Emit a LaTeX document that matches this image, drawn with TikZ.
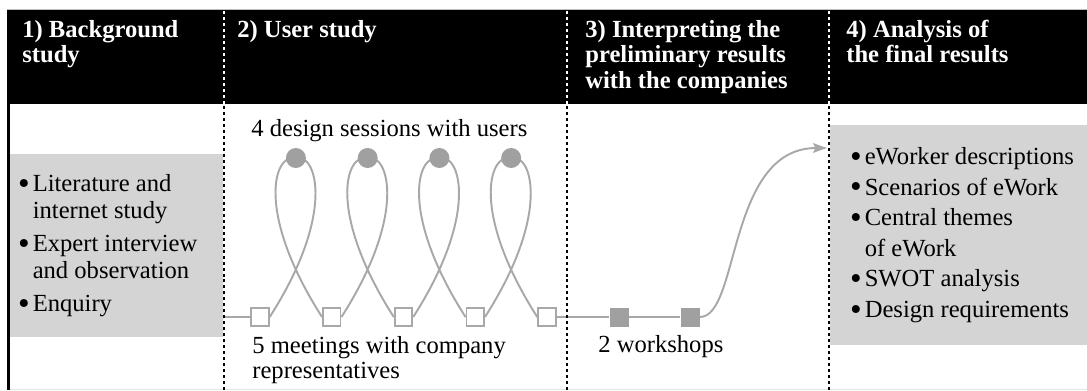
\documentclass[tikz,border=0pt]{standalone}
\usepackage{fontspec}
\setmainfont{Liberation Serif}
\usetikzlibrary{arrows.meta,backgrounds,calc}

\definecolor{linegrey}{RGB}{168,168,168}
\definecolor{dotgrey}{RGB}{160,160,160}
\definecolor{boxgrey}{RGB}{212,212,212}

\tikzset{
  hdr/.style={text=white, font=\fontsize{14pt}{14.5pt}\selectfont\bfseries,
    align=left, anchor=base west, inner sep=0pt},
  lbl/.style={font=\fontsize{14pt}{15.4pt}\selectfont, align=left,
    anchor=base west, inner sep=0pt},
  greybox/.style={fill=boxgrey, inner sep=0pt},
  meet/.style={rectangle, draw=linegrey, fill=white, line width=1.1pt,
    minimum size=0.35cm, inner sep=0pt},
  shop/.style={rectangle, fill=dotgrey, minimum size=0.38cm, inner sep=0pt},
  sess/.style={circle, fill=dotgrey, minimum size=0.4cm, inner sep=0pt},
  flow/.style={draw=linegrey, line width=1.1pt},
  divider/.style={line width=1.1pt, dash pattern=on 1.7pt off 1.7pt}
}
\newcommand{\blt}{\makebox[0.6em][l]{\raisebox{-0.11em}{\scalebox{1.35}{\textbullet}}}}
\newcommand{\ind}{\hspace*{0.6em}}

\begin{document}
\begin{tikzpicture}[x=0.02cm, y=0.02cm]
  \useasboundingbox (0,0) rectangle (1087,390);

  % header band and frame
  \fill (7,286) rectangle (1087,380);
  \draw[gray!50, line width=0.4pt] (7,380.5) -- (1087,380.5);
  \draw[gray!20, line width=0.4pt] (7,1) -- (1087,1);
  \draw[line width=1.7pt] (8.5,0) -- (8.5,380);

  % grey boxes
  \node[greybox, minimum width=4.26cm, minimum height=3.66cm] (bgbox) at (116.5,144.5) {};
  \node[greybox, minimum width=5.14cm, minimum height=4.4cm] (finbox) at (958.5,155) {};

  % column dividers
  \foreach \x in {224,567,829} {
    \draw[divider, white] (\x,286) -- (\x,380);
    \draw[divider] (\x,0) -- (\x,286);
  }

  % headers (base = last line)
  \node[hdr] (hdrbg) at (22,327.5) {1) Background\\study};
  \node[hdr] (hdrus) at (237,353) {2) User study};
  \node[hdr] (hdrint) at (585,302) {3) Interpreting the\\preliminary results\\with the companies};
  \node[hdr] (hdrana) at (846,327.5) {4) Analysis of\\the final results};

  % lists
  \node[lbl, anchor=west] (bglist) at ([xshift=0.16cm]bgbox.west)
    {\blt Literature and\\\ind internet study\\[3.4pt]
     \blt Expert interview\\\ind and observation\\[3.4pt]
     \blt Enquiry};
  \node[lbl, anchor=west, font=\fontsize{14pt}{17.4pt}\selectfont] (finlist)
    at ([xshift=0.4cm]finbox.west)
    {\blt eWorker descriptions\\\blt Scenarios of eWork\\
     \blt Central themes\\\ind of eWork\\\blt SWOT analysis\\
     \blt Design requirements};

  % meetings, sessions, workshops
  \foreach \i in {1,...,5}
    \node[meet] (m\i) at ({260+71.75*(\i-1)},73) {};
  \foreach \i in {1,...,4}
    \node[sess] (c\i) at ({295.9+71.75*(\i-1)},232) {};
  \node[shop] (w1) at (619,73) {};
  \node[shop] (w2) at (690,73) {};
  \coordinate (tip) at (827,242);

  % labels
  \node[lbl] (sesslbl) at (251,254) {4 design sessions with users};
  \node[lbl, font=\fontsize{14pt}{13.7pt}\selectfont] (meetlbl) at (252,12)
    {5 meetings with company\\representatives};
  \node[lbl] (worklbl) at (598,38) {2 workshops};

  % connectors
  \begin{scope}[on background layer]
    \draw[flow] (bgbox.east |- m1.west) -- (m1.west);
    \foreach \i [count=\j from 2] in {1,...,4}
      \draw[flow] (m\i.east) .. controls +(66,103) and +(21,5) .. (c\i.center)
        .. controls +(-23,5) and +(-66,103) .. (m\j.west);
    \draw[flow] (m5.east) -- (w1.west);
    \draw[flow] (w1.east) -- (w2.west);
    \draw[flow, -{Stealth[length=8pt, width=5.5pt, inset=1.5pt]}]
      (w2.east) .. controls +(40,0) and +(-100,0) .. (tip);
  \end{scope}
\end{tikzpicture}
\end{document}
